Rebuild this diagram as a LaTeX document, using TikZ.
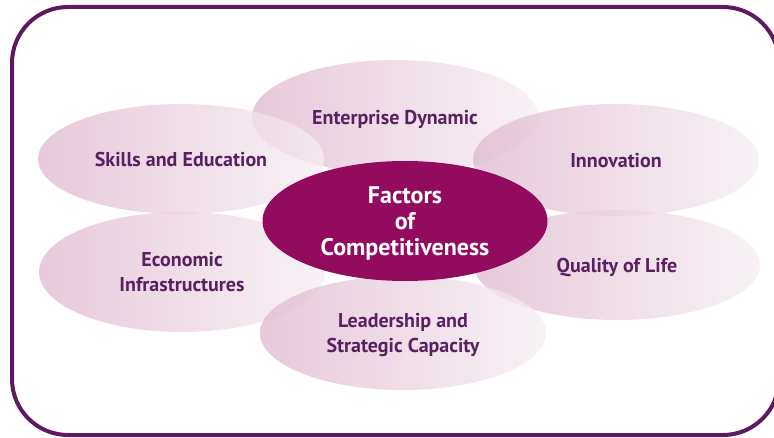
\documentclass[tikz,border=0pt]{standalone}
\usepackage{fontspec}
\setsansfont{PT Sans}
\usepackage{tikz}
\usetikzlibrary{shapes.geometric}
\definecolor{plum}{HTML}{5E1963}
\definecolor{petaltext}{HTML}{5A2160}
\definecolor{magentacore}{HTML}{930B5F}
\definecolor{petaldark}{HTML}{DFB8CF}
\definecolor{petallight}{HTML}{F6EEF3}
\tikzset{
petal/.style = {ellipse, minimum width=286pt, minimum height=#1, inner sep=0pt,
  text depth=0pt, left color=petaldark, right color=petallight,
  fill opacity=0.75, text opacity=1, text=petaltext, align=center,
  font=\sffamily\bfseries\fontsize{20}{25}\selectfont},
petal/.default = 114pt, % height of the petal
core/.style = {ellipse, minimum width=285pt, minimum height=120pt, inner sep=0pt,
  text depth=0pt, fill=magentacore, text=white, align=center,
  font=\sffamily\bfseries\fontsize{24}{26}\selectfont}
}

\begin{document}
\begin{tikzpicture}[x=1pt, y=-1pt]
      \useasboundingbox[fill=white] (0,0) rectangle (774,438);
      \draw [plum, line width=4pt, rounded corners=56pt] (12,7) rectangle (779,435);
      % petals
      \node [petal] (enterprise) at (395,117) {Enterprise Dynamic};
      \node [petal=110pt] (skills) at (181,159) {Skills and Education};
      \node [petal=112pt] (innovation) at (616,160) {Innovation};
      \node [petal=120pt] (economic) at (182,272) {Economic\\Infrastructures};
      \node [petal=110pt] (quality) at (617,265) {Quality of Life};
      \node [petal] (leadership) at (403,333) {Leadership and\\Strategic Capacity};
      % centre
      \node [core] (factors) at (405,221) {Factors\\of\\Competitiveness};
\end{tikzpicture}
\end{document}
